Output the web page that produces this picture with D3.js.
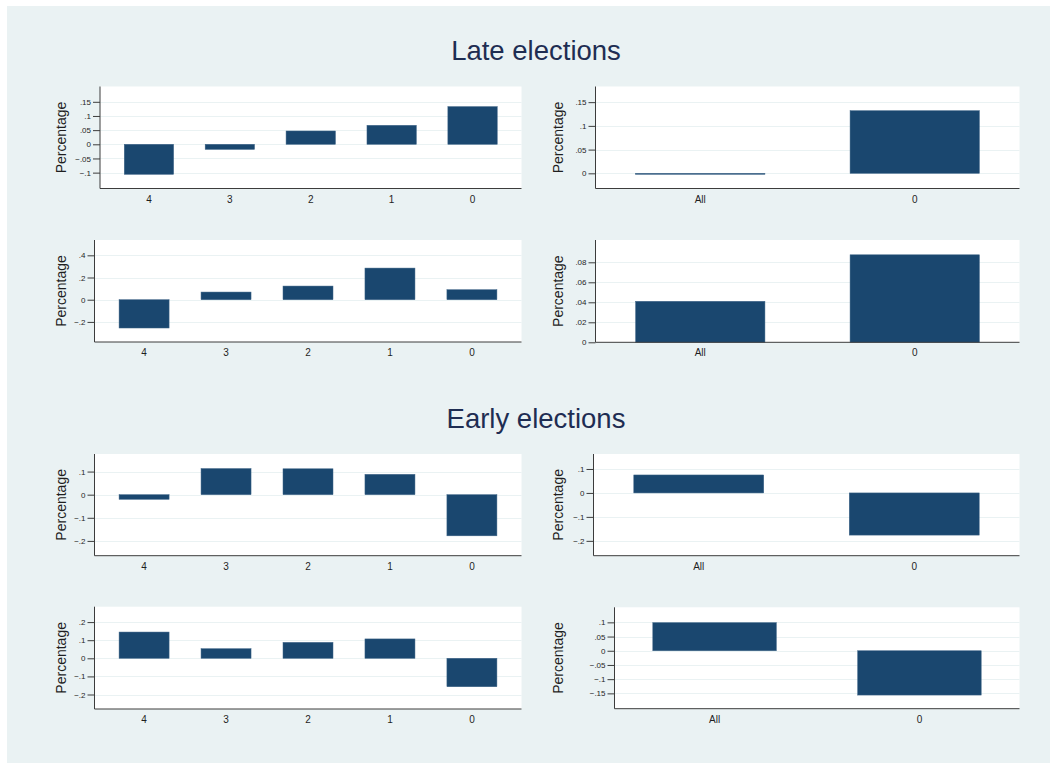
<!DOCTYPE html>
<html>
<head>
<meta charset="utf-8">
<script src="https://cdn.jsdelivr.net/npm/d3@7"></script>
<style>
  html, body { margin: 0; padding: 0; background: #ffffff; }
  svg { display: block; font-family: "Liberation Sans", Arial, Helvetica, sans-serif; }
</style>
</head>
<body>
<svg id="chart" width="1056" height="769"></svg>
<script>
// Categories
const stepCats = ["4", "3", "2", "1", "0"];
const pairCats = ["All", "0"];

// Late elections
const lateStepA = [-0.106, -0.018, 0.047, 0.067, 0.133];
const latePairA = [-0.002, 0.132];
const lateStepB = [-0.255, 0.069, 0.123, 0.285, 0.090];
const latePairB = [0.041, 0.0875];

// Early elections
const earlyStepA = [-0.020, 0.113, 0.112, 0.088, -0.178];
const earlyPairA = [0.075, -0.176];
const earlyStepB = [0.145, 0.053, 0.088, 0.107, -0.157];
const earlyPairB = [0.099, -0.156];

// Y-axis tick values
const ticksLateStepA = [-0.1, -0.05, 0, 0.05, 0.1, 0.15];
const ticksLatePairA = [0, 0.05, 0.1, 0.15];
const ticksLateStepB = [-0.2, 0, 0.2, 0.4];
const ticksLatePairB = [0, 0.02, 0.04, 0.06, 0.08];
const ticksEarlyStepA = [-0.2, -0.1, 0, 0.1];
const ticksEarlyPairA = [-0.2, -0.1, 0, 0.1];
const ticksEarlyStepB = [-0.2, -0.1, 0, 0.1, 0.2];
const ticksEarlyPairB = [-0.15, -0.1, -0.05, 0, 0.05, 0.1];

const sectionTitles = ["Late elections", "Early elections"];
const yTitle = "Percentage";

const BAR = "#1a476f";
const GRID = "#eaf2f3";
const AXIS = "#3c3c3c";
const TEXT = "#1f1f1f";

const svg = d3.select("#chart");

// Graph region
svg.append("rect")
  .attr("x", 7).attr("y", 6).attr("width", 1043).attr("height", 757)
  .attr("fill", "#eaf2f3");

// Section titles
svg.append("text").attr("x", 536).attr("y", 60)
  .attr("text-anchor", "middle").attr("font-size", 27.5).attr("fill", "#1e2d52")
  .text(sectionTitles[0]);
svg.append("text").attr("x", 536).attr("y", 428)
  .attr("text-anchor", "middle").attr("font-size", 27.5).attr("fill", "#1e2d52")
  .text(sectionTitles[1]);

function fmt(d) {
  if (d === 0) return "0";
  const s = String(+Math.abs(d).toFixed(4)).replace(/^0/, "");
  return (d < 0 ? "\u2212" : "") + s;
}

function panel(o) {
  const g = svg.append("g");
  const x = d3.scaleBand().domain(o.cats).range([o.left, o.right])
    .paddingInner(o.cats.length > 2 ? 0.39 : 0.397)
    .paddingOuter(o.cats.length > 2 ? 0.3 : 0.187);
  const y = d3.scaleLinear().domain(o.domain).range([o.bottom, o.top]);

  // plot area
  g.append("rect").attr("x", o.left).attr("y", o.top)
    .attr("width", o.right - o.left).attr("height", o.bottom - o.top)
    .attr("fill", "#ffffff");

  // gridlines
  g.selectAll(".grid").data(o.ticks).join("line")
    .attr("x1", o.left).attr("x2", o.right)
    .attr("y1", d => Math.round(y(d)) + 0.5).attr("y2", d => Math.round(y(d)) + 0.5)
    .attr("stroke", GRID).attr("stroke-width", 1.2);

  // bars
  g.selectAll(".bar").data(o.values).join("rect")
    .attr("x", (d, i) => x(o.cats[i]))
    .attr("width", x.bandwidth())
    .attr("y", d => y(Math.max(0, d)))
    .attr("height", d => Math.max(1, Math.abs(y(d) - y(0))))
    .attr("fill", BAR)
    .attr("stroke", "#3d6386").attr("stroke-width", 0.5);

  // y axis
  const ya = g.append("g").attr("transform", `translate(${o.left},0)`)
    .call(d3.axisLeft(y).tickValues(o.ticks).tickFormat(fmt).tickSize(7).tickPadding(2));
  ya.select(".domain").attr("d", `M0,${o.top}V${o.bottom}`).attr("stroke", AXIS);
  ya.selectAll(".tick line").attr("stroke", AXIS);
  ya.selectAll(".tick text").attr("font-size", 8).attr("fill", TEXT)
    .attr("font-family", "'Liberation Sans', Arial, sans-serif");

  // x axis
  const xa = g.append("g").attr("transform", `translate(0,${o.bottom})`)
    .call(d3.axisBottom(x).tickSize(0).tickPadding(7));
  xa.select(".domain").attr("d", `M${o.left},0H${o.right}`).attr("stroke", AXIS);
  xa.selectAll(".tick text").attr("font-size", 10).attr("fill", TEXT)
    .attr("font-family", "'Liberation Sans', Arial, sans-serif");

  // y title
  g.append("text")
    .attr("transform", `translate(${o.titleX},${(o.top + o.bottom) / 2}) rotate(-90)`)
    .attr("text-anchor", "middle").attr("font-size", 14).attr("fill", TEXT)
    .text(yTitle);
}

panel({ cats: stepCats, values: lateStepA, ticks: ticksLateStepA, domain: [-0.156, 0.204],
        left: 100, right: 521.5, top: 86.5, bottom: 188.5, titleX: 66 });
panel({ cats: pairCats, values: latePairA, ticks: ticksLatePairA, domain: [-0.032, 0.183],
        left: 595.5, right: 1019.5, top: 86.5, bottom: 188.5, titleX: 563 });
panel({ cats: stepCats, values: lateStepB, ticks: ticksLateStepB, domain: [-0.381, 0.538],
        left: 94.5, right: 521.5, top: 240, bottom: 342, titleX: 66 });
panel({ cats: pairCats, values: latePairB, ticks: ticksLatePairB, domain: [0, 0.1023],
        left: 595.5, right: 1019.5, top: 240, bottom: 342.3, titleX: 563 });
panel({ cats: stepCats, values: earlyStepA, ticks: ticksEarlyStepA, domain: [-0.264, 0.176],
        left: 94.5, right: 521.5, top: 454, bottom: 555.7, titleX: 66 });
panel({ cats: pairCats, values: earlyPairA, ticks: ticksEarlyPairA, domain: [-0.262, 0.1625],
        left: 593.5, right: 1019.5, top: 454, bottom: 555.7, titleX: 563 });
panel({ cats: stepCats, values: earlyStepB, ticks: ticksEarlyStepB, domain: [-0.28, 0.285],
        left: 94.5, right: 521.5, top: 606.7, bottom: 709, titleX: 66 });
panel({ cats: pairCats, values: earlyPairB, ticks: ticksEarlyPairB, domain: [-0.204, 0.153],
        left: 614.5, right: 1019.5, top: 607.3, bottom: 708.7, titleX: 563 });
</script>
</body>
</html>
